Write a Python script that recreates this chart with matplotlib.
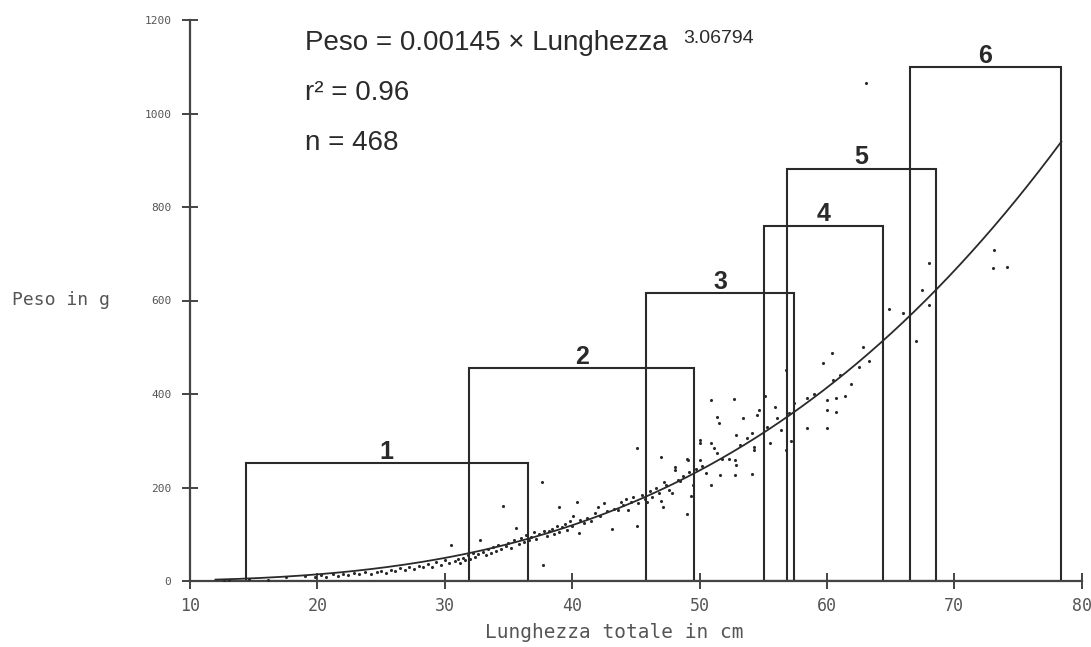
import numpy as np
import matplotlib
matplotlib.use("Agg")
import matplotlib.pyplot as plt
from matplotlib.patches import Rectangle

# length classes (boxes): left edge, right edge, top weight
class_labels = ["1", "2", "3", "4", "5", "6"]
class_left = [14.4, 31.9, 45.8, 55.05, 56.9, 66.5]
class_right = [36.5, 49.6, 57.4, 64.4, 68.55, 78.4]
class_top = [252, 456, 615, 760, 882, 1099]

# fitted length-weight relation
coef_a = 0.00145
coef_b = 3.06794
r2 = 0.96
n_fish = 468

lengths = [
    12.7, 13.1, 14.6, 16.1, 17.5, 19.0, 19.8, 20.3, 20.7, 21.2, 21.6, 22.0,
    22.4, 22.9, 23.3, 23.7, 24.2, 24.7, 25.0, 25.4, 25.8, 26.1, 26.5, 26.9,
    27.2, 27.6, 28.0, 28.3, 28.7, 29.0, 29.3, 29.7, 30.0, 30.3, 30.5, 30.8,
    31.0, 31.2, 31.4, 31.6, 31.8, 32.0, 32.2, 32.4, 32.6, 32.8, 33.0, 33.2,
    33.4, 33.6, 33.8, 34.0, 34.2, 34.4, 34.6, 34.8, 35.0, 35.2, 35.4, 35.6,
    35.8, 36.0, 36.2, 36.4, 36.6, 36.8, 37.0, 37.2, 37.4, 37.6, 37.7, 37.8,
    38.0, 38.2, 38.4, 38.6, 38.8, 39.0, 39.0, 39.2, 39.4, 39.6, 39.8, 40.0,
    40.1, 40.4, 40.5, 40.6, 40.9, 41.2, 41.5, 41.8, 42.0, 42.2, 42.5, 42.7,
    43.1, 43.3, 43.6, 43.8, 44.0, 44.2, 44.4, 44.6, 44.8, 45.1, 45.1, 45.2,
    45.5, 45.7, 45.9, 46.1, 46.3, 46.6, 46.8, 47.0, 47.0, 47.1, 47.2, 47.4,
    47.6, 47.8, 48.1, 48.1, 48.3, 48.5, 48.7, 49.0, 49.0, 49.1, 49.2, 49.3,
    49.5, 49.7, 50.0, 50.0, 50.0, 50.2, 50.5, 50.9, 50.9, 50.9, 51.1, 51.4,
    51.4, 51.5, 51.6, 51.8, 52.3, 52.7, 52.8, 52.8, 52.9, 52.9, 53.2, 53.4,
    53.7, 54.1, 54.1, 54.3, 54.3, 54.5, 54.7, 55.1, 55.3, 55.5, 55.9, 56.1,
    56.4, 56.8, 56.8, 57.0, 57.4, 57.2, 58.4, 58.4, 59.0, 59.7, 60.0, 60.0,
    60.0, 60.4, 60.5, 60.7, 60.7, 61.4, 61.9, 62.5, 62.8, 61.0, 63.3, 64.9,
    66.0, 67.0, 67.5, 68.0, 68.0, 73.1, 73.0, 74.1, 63.1,
]
weights = [
    0, 2, 4, 3, 8, 10, 9, 12, 8, 14, 11, 15,
    12, 17, 14, 19, 16, 20, 22, 18, 24, 21, 27, 24,
    29, 26, 33, 30, 36, 31, 40, 35, 44, 38, 77, 42,
    46, 38, 50, 44, 55, 48, 60, 52, 58, 88, 63, 55,
    68, 60, 72, 65, 78, 68, 160, 75, 82, 70, 88, 113,
    80, 92, 84, 98, 88, 95, 105, 90, 100, 212, 34, 108,
    96, 107, 112, 100, 118, 158, 105, 115, 122, 110, 128, 118,
    140, 170, 103, 130, 125, 135, 128, 145, 158, 138, 166, 150,
    111, 155, 151, 170, 162, 175, 151, 168, 180, 118, 285, 166,
    185, 175, 170, 192, 180, 198, 188, 265, 172, 158, 212, 205,
    195, 188, 243, 237, 215, 214, 225, 262, 144, 259, 234, 181,
    206, 240, 302, 295, 259, 245, 230, 387, 295, 206, 284, 350,
    273, 339, 227, 262, 262, 389, 258, 227, 312, 248, 290, 349,
    305, 228, 316, 287, 280, 355, 366, 396, 330, 295, 373, 348,
    323, 451, 280, 360, 380, 300, 391, 327, 400, 466, 327, 387,
    366, 488, 430, 391, 362, 396, 421, 458, 500, 440, 470, 581,
    573, 514, 622, 680, 590, 707, 669, 671, 1065,
]

x_ticks = [10, 20, 30, 40, 50, 60, 70, 80]
y_ticks = [0, 200, 400, 600, 800, 1000, 1200]

ink = "#2a2a2a"
fig = plt.figure(figsize=(10.91, 6.47), dpi=100, facecolor="white")
ax = fig.add_axes([190 / 1091, 66 / 647, 891.7 / 1091, 561 / 647])
ax.set_xlim(10, 80)
ax.set_ylim(0, 1200)

for side in ["top", "right"]:
    ax.spines[side].set_visible(False)
for side in ["left", "bottom"]:
    ax.spines[side].set_color("#444444")
    ax.spines[side].set_linewidth(1.6)

ax.set_xticks(x_ticks)
ax.set_yticks(y_ticks)
ax.tick_params(direction="inout", length=11, width=1.4, colors="#444444")
ax.tick_params(axis="x", pad=6, labelsize=12)
ax.tick_params(axis="y", pad=8, labelsize=8)
for lab in ax.get_xticklabels() + ax.get_yticklabels():
    lab.set_family("DejaVu Sans Mono")
    lab.set_color("#555555")

# class boxes
for lab, x0, x1, top in zip(class_labels, class_left, class_right, class_top):
    ax.add_patch(Rectangle((x0, 0), x1 - x0, top, fill=False,
                           edgecolor=ink, linewidth=1.5, zorder=2))
    ax.text((x0 + x1) / 2, top + 9, lab, ha="center", va="baseline",
            fontsize=18, fontweight="bold", family="Liberation Sans", color=ink)

# points and fitted curve
ax.scatter(lengths, weights, s=5, color=ink, linewidths=0, zorder=3)
L = np.linspace(12, 78.4, 300)
ax.plot(L, coef_a * L ** coef_b, color=ink, linewidth=1.3, zorder=3)

# equation text
ax.text(19.0, 1136, "Peso = %.5f \u00d7 Lunghezza" % coef_a, fontsize=20,
        family="Liberation Sans", color=ink, va="baseline")
ax.text(48.7, 1151, "%.5f" % coef_b, fontsize=14,
        family="Liberation Sans", color=ink, va="baseline")
ax.text(19.0, 1029, "r\u00b2 = %.2f" % r2, fontsize=20,
        family="Liberation Sans", color=ink, va="baseline")
ax.text(19.0, 922, "n = %d" % n_fish, fontsize=20,
        family="Liberation Sans", color=ink, va="baseline")

fig.text(12 / 1091, 1 - 300 / 647, "Peso in g", fontsize=13,
         family="DejaVu Sans Mono", color="#555555", va="center", ha="left")
fig.text(614 / 1091, 1 - 633 / 647, "Lunghezza totale in cm", fontsize=14,
         family="DejaVu Sans Mono", color="#555555", va="center", ha="center")

fig.savefig("out.png", dpi=100, facecolor="white")
